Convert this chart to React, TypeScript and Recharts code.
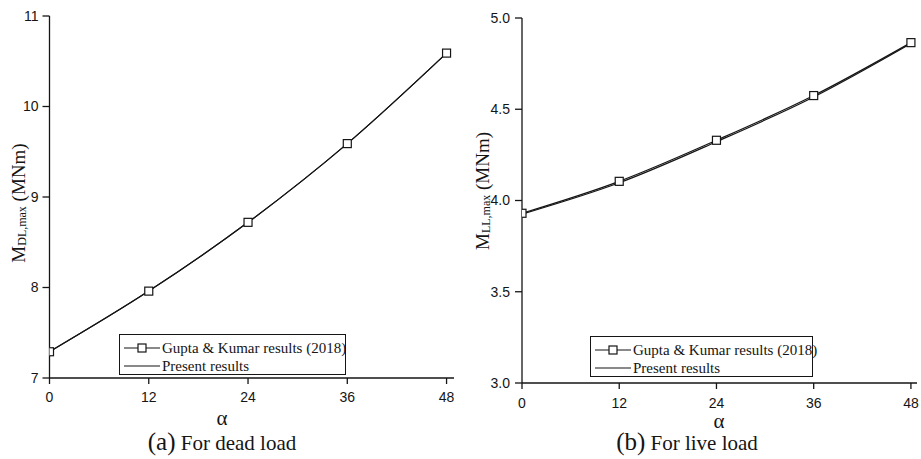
import React from 'react';
import { LineChart, Line, XAxis, YAxis, Legend } from 'recharts';

// α values on the x axis
const alpha = [0, 12, 24, 36, 48];
const alphaTicks = [0, 12, 24, 36, 48];

// (a) dead load, MNm
const deadGupta = [7.29, 7.96, 8.72, 9.59, 10.59];
const deadPresent = [7.29, 7.96, 8.72, 9.59, 10.59];
const deadTicks = [7, 8, 9, 10, 11];

// (b) live load, MNm
const liveGupta = [3.93, 4.105, 4.33, 4.575, 4.865];
const livePresent = [3.925, 4.097, 4.322, 4.567, 4.86];
const liveTicks = [3.0, 3.5, 4.0, 4.5, 5.0];

const seriesNames = ['Gupta & Kumar results (2018)', 'Present results'];

const deadData = alpha.map((a, i) => ({ alpha: a, gupta: deadGupta[i], present: deadPresent[i] }));
const liveData = alpha.map((a, i) => ({ alpha: a, gupta: liveGupta[i], present: livePresent[i] }));

const SERIF = '"Liberation Serif", "Times New Roman", serif';
const SANS = '"Liberation Sans", Arial, sans-serif';
const INK = '#151515';

const SquareDot = (props: any) => {
  const { cx, cy, index } = props;
  if (cx == null || cy == null) return null;
  return <rect key={`sq-${index}`} x={cx - 4} y={cy - 4} width={8} height={8} fill="#fff" stroke={INK} strokeWidth={1.2} />;
};

const YTitle = (props: any) => {
  const { posX, posY, sub } = props;
  return (
    <text
      x={posX}
      y={posY}
      transform={`rotate(-90, ${posX}, ${posY})`}
      textAnchor="middle"
      dominantBaseline="central"
      fontFamily={SERIF}
      fontSize={19}
      fill={INK}
    >
      M<tspan fontSize={12} dy={4}>{sub}</tspan>
      <tspan dy={-4}> (MNm)</tspan>
    </text>
  );
};

const XTitle = (props: any) => {
  const { posX, posY } = props;
  return (
    <text x={posX} y={posY} textAnchor="middle" dominantBaseline="central" fontFamily={SERIF} fontSize={21} fill={INK}>
      α
    </text>
  );
};

const LegendBox = ({ width }: { width: number }) => (
  <div
    style={{
      width,
      height: 41,
      boxSizing: 'border-box',
      border: `1px solid ${INK}`,
      background: '#fff',
      fontFamily: SERIF,
      fontSize: 15,
      color: INK,
      padding: '4px 0 0 0',
    }}
  >
    {seriesNames.map((name, i) => (
      <div key={name} style={{ display: 'flex', alignItems: 'center', height: 18 }}>
        <svg width={42} height={18} style={{ flex: 'none' }}>
          <line x1={4} y1={9} x2={40} y2={9} stroke={INK} strokeWidth={1.2} />
          {i === 0 && <rect x={18} y={5} width={8} height={8} fill="#fff" stroke={INK} strokeWidth={1.2} />}
        </svg>
        <span style={{ whiteSpace: 'nowrap' }}>{name}</span>
      </div>
    ))}
  </div>
);

const tickStyle = { fontFamily: SANS, fontSize: 14, fill: INK };

const Panel = (p: {
  data: any[];
  width: number;
  margin: any;
  xMax: number;
  yDomain: [number, number];
  yTicks: number[];
  yFmt: (v: number) => string;
  sub: string;
  yTitle: [number, number];
  xTitle: [number, number];
  legend: [number, number, number];
  xTickMargin: number;
  yTickMargin: number;
}) => (
  <LineChart width={p.width} height={459} data={p.data} margin={p.margin}>
    <XAxis
      dataKey="alpha"
      type="number"
      domain={[0, p.xMax]}
      ticks={alphaTicks}
      tick={tickStyle}
      tickSize={6}
      tickMargin={p.xTickMargin}
      stroke={INK}
      strokeWidth={1.3}
      allowDataOverflow
      label={<XTitle posX={p.xTitle[0]} posY={p.xTitle[1]} />}
    />
    <YAxis
      type="number"
      domain={p.yDomain}
      ticks={p.yTicks}
      tickFormatter={p.yFmt}
      tick={tickStyle}
      tickSize={7}
      tickMargin={p.yTickMargin}
      width={40}
      stroke={INK}
      strokeWidth={1.3}
      allowDataOverflow
      label={<YTitle posX={p.yTitle[0]} posY={p.yTitle[1]} sub={p.sub} />}
    />
    <Legend
      layout="vertical"
      align="center"
      verticalAlign="middle"
      wrapperStyle={{ left: p.legend[0], top: p.legend[1], width: p.legend[2] }}
      content={() => <LegendBox width={p.legend[2]} />}
    />
    <Line
      type="monotone"
      dataKey="present"
      name={seriesNames[1]}
      stroke={INK}
      strokeWidth={1.2}
      dot={false}
      isAnimationActive={false}
    />
    <Line
      type="monotone"
      dataKey="gupta"
      name={seriesNames[0]}
      stroke={INK}
      strokeWidth={1.2}
      dot={SquareDot}
      activeDot={false}
      isAnimationActive={false}
    />
  </LineChart>
);

const Caption = ({ left, letter, text }: { left: number; letter: string; text: string }) => (
  <div
    style={{
      position: 'absolute',
      left,
      top: 428,
      width: 300,
      textAlign: 'center',
      fontFamily: SERIF,
      color: INK,
      fontSize: 21,
      lineHeight: '28px',
      whiteSpace: 'nowrap',
    }}
  >
    <span style={{ fontSize: 25 }}>({letter})</span> {text}
  </div>
);

export default function App() {
  return (
    <div style={{ position: 'absolute', left: 0, top: 0, width: 921, height: 459, background: '#fff', overflow: 'hidden' }}>
      <div style={{ position: 'absolute', left: 0, top: 0 }}>
        <Panel
          data={deadData}
          width={460}
          margin={{ top: 16, right: 6, left: 9.5, bottom: 51 }}
          xMax={48.9}
          yDomain={[7, 11]}
          yTicks={deadTicks}
          yFmt={(v) => String(v)}
          sub="DL,max"
          yTitle={[18, 203]}
          xTitle={[222, 418]}
          legend={[119, 334, 227]}
          xTickMargin={8}
          yTickMargin={4}
        />
      </div>
      <div style={{ position: 'absolute', left: 460, top: 0 }}>
        <Panel
          data={liveData}
          width={461}
          margin={{ top: 18, right: 4, left: 22, bottom: 46 }}
          xMax={48.75}
          yDomain={[3, 5]}
          yTicks={liveTicks}
          yFmt={(v) => v.toFixed(1)}
          sub="LL,max"
          yTitle={[22, 191]}
          xTitle={[259, 421]}
          legend={[130, 336, 223]}
          xTickMargin={9}
          yTickMargin={5}
        />
      </div>
      <Caption left={72} letter="a" text="For dead load" />
      <Caption left={537} letter="b" text="For live load" />
    </div>
  );
}
